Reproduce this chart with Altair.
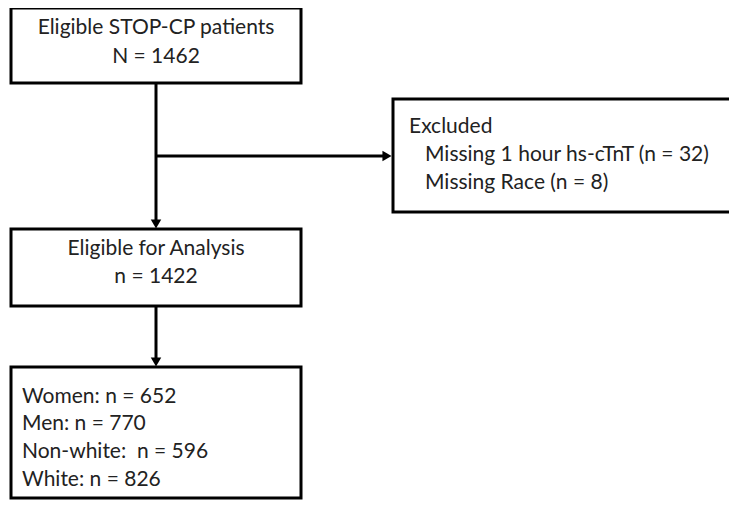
import altair as alt
import pandas as pd

# ---- content ----
box_names = ["eligible", "excluded", "analysis", "groups"]
box_x1 = [11, 393, 11, 11]
box_x2 = [301, 745, 301, 301]
box_y1 = [8, 99, 229, 367]
box_y2 = [83, 212, 306, 498]

center_lines = ["Eligible STOP-CP patients", "N = 1462", "Eligible for Analysis", "n = 1422"]
center_x = [156, 156, 156, 156]
center_y = [28, 57, 249, 277]

left_lines = ["Excluded", "Missing 1 hour hs-cTnT (n = 32)", "Missing Race (n = 8)",
              "Women: n = 652", "Men: n = 770", "Non-white:\u00a0 n = 596", "White: n = 826"]
left_x = [409, 425, 425, 22, 22, 22, 22]
left_y = [127, 155, 183, 397, 424, 452, 480]

# connectors
vline_x = [156, 156]
vline_y1 = [83, 306]
vline_y2 = [222, 360]
hline_y = [156]
hline_x1 = [156]
hline_x2 = [386]

head_x = [156, 387, 156]
head_y = [224, 156, 362]
head_shape = ["triangle-down", "triangle-right", "triangle-down"]

boxes = pd.DataFrame({"name": box_names, "x1": box_x1, "x2": box_x2, "y1": box_y1, "y2": box_y2})
ctext = pd.DataFrame({"t": center_lines, "x": center_x, "y": center_y})
ltext = pd.DataFrame({"t": left_lines, "x": left_x, "y": left_y})
vlines = pd.DataFrame({"x": vline_x, "y1": vline_y1, "y2": vline_y2})
hlines = pd.DataFrame({"y": hline_y, "x1": hline_x1, "x2": hline_x2})
heads = pd.DataFrame({"x": head_x, "y": head_y, "s": head_shape})

W, H = 721, 492
xs = alt.Scale(domain=[8, 8 + W], nice=False, zero=False)
ys = alt.Scale(domain=[8, 8 + H], nice=False, zero=False, reverse=True)
FONT = "Lato"
FS = 21

rects = alt.Chart(boxes).mark_rect(fill="white", stroke="black", strokeWidth=3).encode(
    x=alt.X("x1:Q", scale=xs, axis=None), x2="x2:Q",
    y=alt.Y("y1:Q", scale=ys, axis=None), y2="y2:Q")

vr = alt.Chart(vlines).mark_rule(color="black", strokeWidth=3).encode(
    x=alt.X("x:Q", scale=xs, axis=None),
    y=alt.Y("y1:Q", scale=ys, axis=None), y2="y2:Q")

hr = alt.Chart(hlines).mark_rule(color="black", strokeWidth=3).encode(
    y=alt.Y("y:Q", scale=ys, axis=None),
    x=alt.X("x1:Q", scale=xs, axis=None), x2="x2:Q")

arrow = alt.Chart(heads).mark_point(filled=True, color="black", opacity=1, size=110).encode(
    x=alt.X("x:Q", scale=xs, axis=None),
    y=alt.Y("y:Q", scale=ys, axis=None),
    shape=alt.Shape("s:N", scale=None))

ct = alt.Chart(ctext).mark_text(align="center", baseline="middle", font=FONT, fontSize=FS, color="#222222").encode(
    x=alt.X("x:Q", scale=xs, axis=None), y=alt.Y("y:Q", scale=ys, axis=None), text="t:N")

lt = alt.Chart(ltext).mark_text(align="left", baseline="middle", font=FONT, fontSize=FS, color="#222222").encode(
    x=alt.X("x:Q", scale=xs, axis=None), y=alt.Y("y:Q", scale=ys, axis=None), text="t:N")

chart = alt.layer(vr, hr, arrow, rects, ct, lt).properties(
    width=W, height=H, padding=0, autosize=alt.AutoSizeParams(type="none")
).configure_view(stroke=None)

chart.save("out.html", embed_options={"renderer": "svg", "actions": False})
